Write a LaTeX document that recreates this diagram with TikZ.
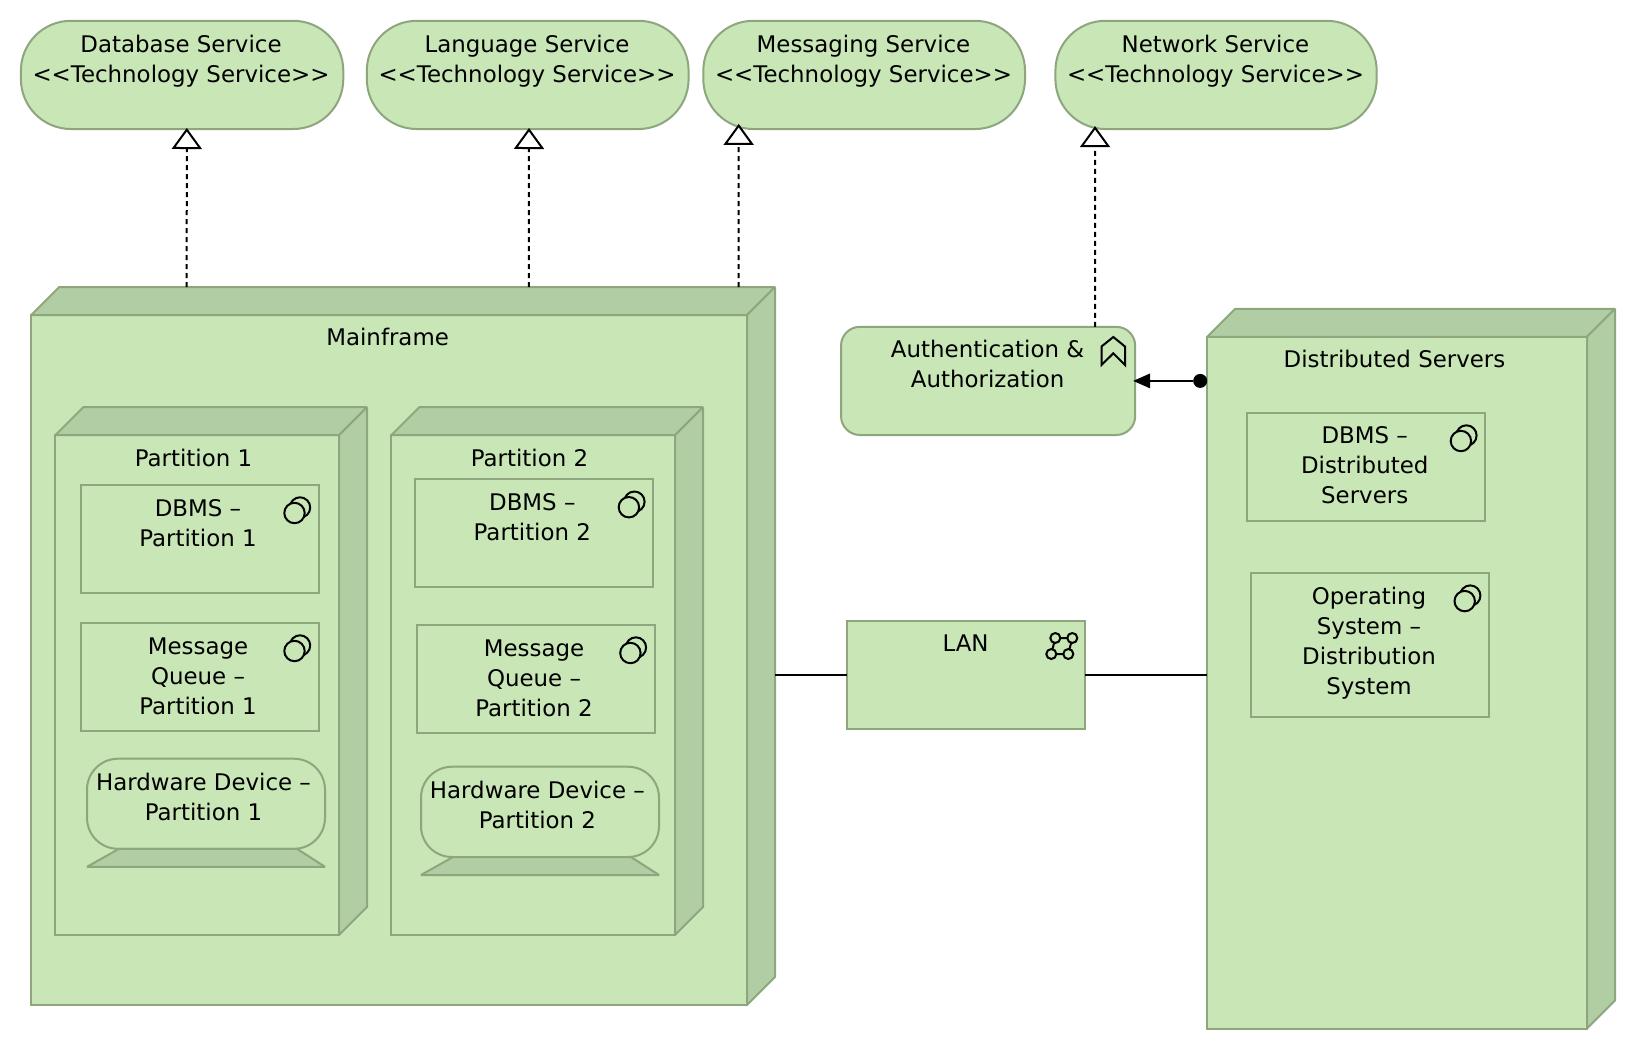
\documentclass[tikz,border=0pt]{standalone}
\usepackage{fontspec}
\setmainfont{DejaVu Sans}
\usetikzlibrary{arrows.meta,calc}
\definecolor{bfill}{HTML}{C9E6B7}
\definecolor{bdark}{HTML}{B1CDA3}
\definecolor{bline}{HTML}{8EA67E}
\tikzset{
  every node/.style={inner sep=0pt,outer sep=0pt},
  shapeline/.style={draw=bline,line width=2pt,line join=miter},
  facefront/.style={shapeline,fill=bfill},
  faceback/.style={shapeline,fill=bdark},
  blockbox/.style={facefront,rectangle},
  pillbox/.style={facefront,rectangle,rounded corners=50pt},
  softbox/.style={facefront,rectangle,rounded corners=19pt},
  screenbox/.style={facefront,rectangle,rounded corners=31pt},
  txt/.style={anchor=north,align=center,text=black,font=\fontsize{22.9}{30}\selectfont},
  icon/.style={draw=black,line width=2pt,fill=bfill},
  realize/.style={draw=black,line width=2pt,dash pattern=on 5pt off 4pt,
     -{Triangle[open,fill=white,length=21pt,width=30pt,line width=2pt]}},
  link/.style={draw=black,line width=2pt},
  assign/.style={draw=black,line width=2pt,
     {Circle[length=14pt,line width=0pt]}-{Triangle[length=17pt,width=15pt,line width=0pt]}}
}
% #1 name, #2 x1, #3 y1, #4 x2, #5 y2, #6 node style
\newcommand{\boxat}[6]{%
  \pgfmathsetmacro{\bw}{#4-#2}\pgfmathsetmacro{\bh}{#5-#3}%
  \pgfmathsetmacro{\bx}{(#2+#4)/2}\pgfmathsetmacro{\by}{(#3+#5)/2}%
  \node[#6,minimum width=\bw pt,minimum height=\bh pt] (#1) at (\bx,\by) {};}
% 3D node box: front face corners, depth 28
\newcommand{\threed}[5]{%
  \pgfmathsetmacro{\bw}{#4-#2+28}\pgfmathsetmacro{\bh}{#5-#3+28}%
  \pgfmathsetmacro{\bx}{(#2+#4+28)/2}\pgfmathsetmacro{\by}{(#3+#5-28)/2}%
  \pgfmathsetmacro{\xb}{#4+28}\pgfmathsetmacro{\ya}{#3-28}\pgfmathsetmacro{\yb}{#5-28}\pgfmathsetmacro{\xa}{#2+28}%
  \draw[facefront] (#2,#3) rectangle (#4,#5);
  \draw[faceback,line join=bevel] (#2,#3) -- (\xa,\ya) -- (\xb,\ya) -- (#4,#3) -- cycle;
  \draw[faceback,line join=bevel] (#4,#3) -- (\xb,\ya) -- (\xb,\yb) -- (#4,#5) -- cycle;
  \node[minimum width=\bw pt,minimum height=\bh pt] (#1) at (\bx,\by) {};}
% component box with icon
\newcommand{\comp}[5]{%
  \boxat{#1}{#2}{#3}{#4}{#5}{blockbox}
  \draw[icon] ([shift={(-18.8,22.7)}]#1.north east) circle[radius=10.2];
  \draw[icon] ([shift={(-24.3,28.2)}]#1.north east) circle[radius=10.2];}
% hardware device
\newcommand{\device}[5]{%
  \boxat{#1}{#2}{#3}{#4}{#5}{screenbox}
  \draw[faceback,line join=bevel] ([xshift=32pt]#1.south west) -- ([xshift=-28pt]#1.south east)
     -- ([yshift=-18pt]#1.south east) -- ([yshift=-18pt]#1.south west) -- cycle;}
% label: #1 name, #2 x, #3 first baseline, #4 text
\newcommand{\lbl}[4]{%
  \pgfmathsetmacro{\ly}{#3-21}%
  \node[txt] (#1) at (#2,\ly) {\strut #4};}
\newcommand{\stereo}{<{}<Technology Service>{}>}
\begin{document}
\begin{tikzpicture}[x=1pt,y=-1pt]
\useasboundingbox (0,0) rectangle (1636,1050);
\fill[white] (0,0) rectangle (1636,1050);

% services
\boxat{db}{20.9}{20.8}{343.3}{129}{pillbox}
\boxat{lang}{366.8}{20.8}{688.6}{129}{pillbox}
\boxat{msg}{703.3}{20.8}{1025}{129}{pillbox}
\boxat{net}{1055.4}{20.8}{1376.7}{129}{pillbox}
\lbl{dbt}{181}{52}{Database Service\\\stereo}
\lbl{langt}{527}{52}{Language Service\\\stereo}
\lbl{msgt}{863.5}{52}{Messaging Service\\\stereo}
\lbl{nett}{1215.5}{52}{Network Service\\\stereo}

% mainframe
\threed{mf}{31.3}{315}{747}{1005}
\lbl{mft}{387.6}{345.8}{Mainframe}
\threed{pa}{55.3}{435.2}{339}{935}
\threed{pb}{391.3}{435.2}{675}{935}
\lbl{pat}{193.5}{466}{Partition 1}
\lbl{pbt}{529.5}{466}{Partition 2}

\comp{dba}{80.9}{484.8}{318.8}{593}
\lbl{dbat}{198}{516}{DBMS –\\Partition 1}
\comp{dbb}{415.3}{479}{653.2}{587}
\lbl{dbbt}{532.3}{510}{DBMS –\\Partition 2}
\comp{mqa}{80.9}{622.8}{318.8}{730.9}
\lbl{mqat}{198}{654.3}{Message\\Queue –\\Partition 1}
\comp{mqb}{416.8}{624.8}{654.7}{733}
\lbl{mqbt}{534}{656}{Message\\Queue –\\Partition 2}
\device{hwa}{87}{758.7}{325}{848.8}
\lbl{hwat}{203.5}{790}{Hardware Device –\\Partition 1}
\device{hwb}{421}{766.7}{659}{857}
\lbl{hwbt}{537.4}{798.3}{Hardware Device –\\Partition 2}

% authentication
\boxat{auth}{841}{326.8}{1135.2}{435}{softbox}
\lbl{autht}{987.6}{357.2}{Authentication \&\\Authorization}
\draw[draw=black,line width=2pt,line join=miter] (1101.5,346.5) -- (1113.3,337) -- (1125,346.5) -- (1125,365) -- (1113.3,353.3) -- (1101.5,365) -- cycle;

% LAN
\boxat{lan}{846.7}{621}{1085}{729}{blockbox}
\lbl{lant}{965.6}{651.6}{LAN}
\draw[draw=black,line width=2pt]
  (1055.3,638) -- (1072.3,638) -- (1068.3,654) -- (1051.3,654) -- cycle;
\draw[icon] (1055.3,638) circle[radius=5];
\draw[icon] (1072.3,638) circle[radius=5];
\draw[icon] (1051.3,654) circle[radius=5];
\draw[icon] (1068.3,654) circle[radius=5];

% distributed servers
\threed{ds}{1207.2}{336.8}{1587}{1028.5}
\lbl{dst}{1394.5}{367.6}{Distributed Servers}
\comp{dbd}{1247.3}{412.8}{1485.2}{521.3}
\lbl{dbdt}{1364.7}{443.7}{DBMS –\\Distributed\\Servers}
\comp{os}{1251}{572.9}{1489}{716.8}
\lbl{ost}{1369}{604.3}{Operating\\System –\\Distribution\\System}

% connectors
\draw[realize] ([xshift=-216.45pt]mf.north) -- ([xshift=4.7pt,yshift=1pt]db.south);
\draw[realize] ([xshift=125.75pt]mf.north) -- ([xshift=1.3pt,yshift=1pt]lang.south);
\draw[realize] ([xshift=335.45pt]mf.north) -- ([xshift=-125.45pt,yshift=5.1pt]msg.south);
\draw[realize] ([xshift=106.9pt]auth.north) -- ([xshift=-121pt,yshift=2.9pt]net.south);
\draw[link] (mf.east |- lan.west) -- (lan.west);
\draw[link] (lan.east) -- (lan.east -| ds.west);
\draw[assign] (ds.west |- auth.east) -- ([xshift=-2pt]auth.east);
\end{tikzpicture}
\end{document}
